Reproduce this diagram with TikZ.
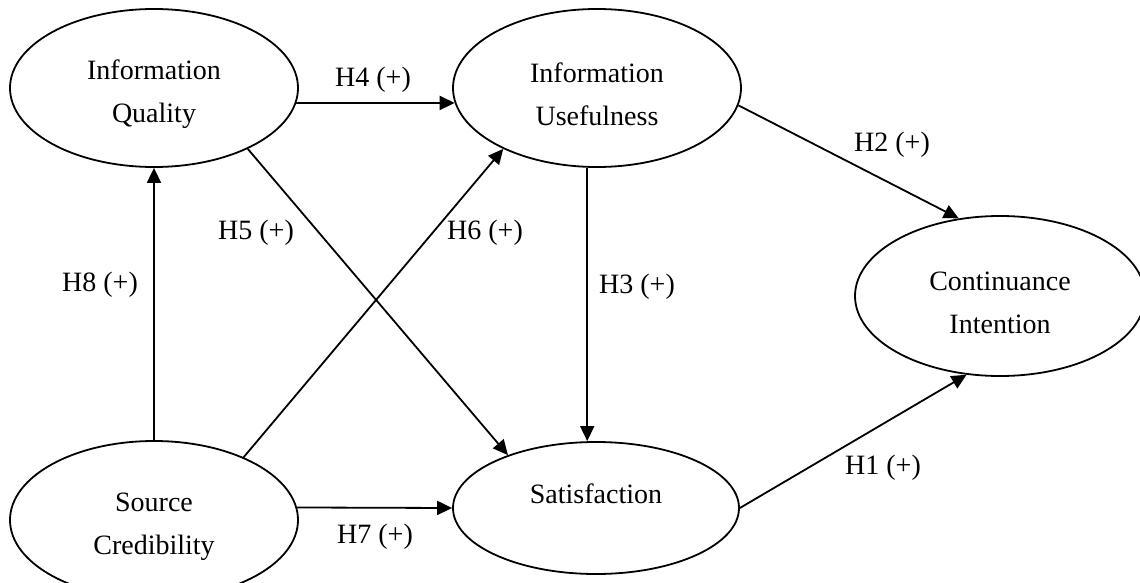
\documentclass[tikz,border=0pt]{standalone}
\usepackage{fontspec}
\setmainfont{Liberation Serif}
\usetikzlibrary{shapes.geometric,arrows.meta}

\newcommand{\lift}{\rule{0pt}{16.5pt}}

\tikzset{
	construct/.style={draw, ellipse, line width=0.9pt, inner sep=0pt, align=center,
		minimum width=144pt, minimum height=79pt},
	hyp/.style={-{Triangle[length=7.5pt,width=7pt]}, line width=0.9pt},
	hlabel/.style={inner sep=0pt}
}

\begin{document}
\begin{tikzpicture}[x=0.5pt, y=-0.5pt, font=\fontsize{14}{21.5}\selectfont]
		\useasboundingbox (0,0) rectangle (1140,583);
		\draw
		node[construct] at (154,88) (iq) {\lift Information\\Quality}
		node[construct] at (597,88) (iu) {\lift Information\\Usefulness}
		node[construct, minimum width=145pt, minimum height=80pt] at (1000,296) (ci) {\lift Continuance\\Intention}
		node[construct] at (154,520) (sc) {\lift Source\\Credibility}
		node[construct, minimum width=143pt, minimum height=66pt] at (596,508) (sat) {\lift Satisfaction\\\mbox{}};

		\node[hlabel] at (373,80) (h4) {H4 (+)};
		\node[hlabel] at (100,285) (h8) {H8 (+)};
		\node[hlabel] at (256,233) (h5) {H5 (+)};
		\node[hlabel] at (485,233) (h6) {H6 (+)};
		\node[hlabel] at (637,287) (h3) {H3 (+)};
		\node[hlabel] at (375,537) (h7) {H7 (+)};
		\node[hlabel] at (892,145) (h2) {H2 (+)};
		\node[hlabel] at (883,468) (h1) {H1 (+)};

		\draw[hyp] (sat.east) -- (ci.247);
		\draw[hyp] (iu.-7) -- (ci.118);
		\draw[hyp] (iu.263) -- (iu.263 |- sat.north);
		\draw[hyp] (iq.-6) -- (iu.186);
		\draw[hyp] (iq.-33) -- (sat.149);
		\draw[hyp] (sc.35) -- (iu.213);
		\draw[hyp] (sc.5) -- (sat.west);
		\draw[hyp] (sc.north) -- (iq.south);
\end{tikzpicture}
\end{document}
